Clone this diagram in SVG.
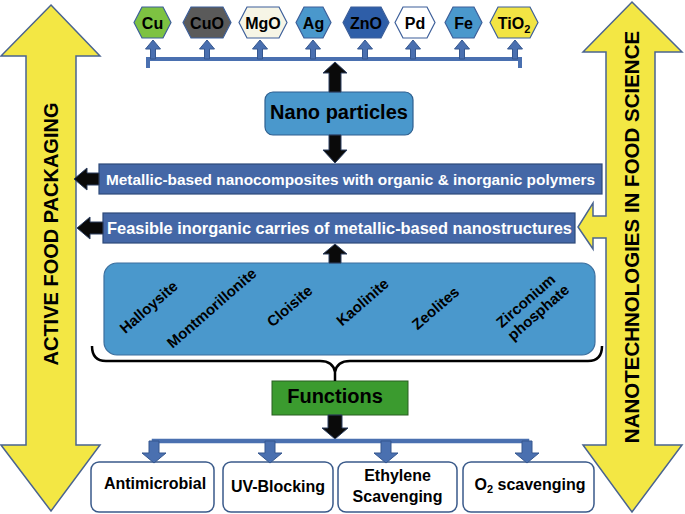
<svg xmlns="http://www.w3.org/2000/svg" width="685" height="514" viewBox="0 0 685 514">
<style>
.t{font-family:"Liberation Sans",Arial,sans-serif;font-weight:bold}
.yel{fill:#f3e744;stroke:#4a6490;stroke-width:1.5}
.hex{stroke:#3d5f9a;stroke-width:1.2}
.bl{fill:#4a70b0;stroke:#35578f;stroke-width:1}
.blk{fill:#0a0a0a;stroke:#2c3e60;stroke-width:1}
.dbox{fill:#4467a6;stroke:#2d4a7a;stroke-width:1.2}
.fbox{fill:#fff;stroke:#3a5a8a;stroke-width:1.5}
</style>
<rect width="685" height="514" fill="#fff"/>

<g id="active-food-packaging">
<path class="yel" d="M51,5 L100,56 L76,56 L76,445 L100,445 L51,511 L1,445 L26,445 L26,56 L1,56 Z"/>
<text class="t" x="0" y="0" font-size="20" text-anchor="middle" transform="translate(58,234) rotate(-90)">ACTIVE FOOD PACKAGING</text>
</g>

<g id="nanotech-food-science">
<path class="yel" d="M632,2 L682,52 L655,52 L655,445 L682,445 L632,512 L583,445 L606,445 L606,238 L593,238 L593,249 L578,227 L593,203 L593,216 L606,216 L606,52 L583,52 Z"/>
<text class="t" x="0" y="0" font-size="20.5" text-anchor="middle" transform="translate(639,237) rotate(-90)">NANOTECHNOLOGIES IN FOOD SCIENCE</text>
</g>

<g id="hex-cu"><polygon class="hex" fill="#7dc242" points="134,22.5 142,7 163,7 171,22.5 163,38 142,38"/><text class="t" x="152.5" y="28.5" font-size="16" text-anchor="middle">Cu</text></g>
<g id="hex-cuo"><polygon class="hex" fill="#5a5a5a" points="183,22.5 191,7 223,7 231,22.5 223,38 191,38"/><text class="t" x="207" y="28.5" font-size="16" text-anchor="middle">CuO</text></g>
<g id="hex-mgo"><polygon class="hex" fill="#f6f5e6" points="239,22.5 247,7 279,7 287,22.5 279,38 247,38"/><text class="t" x="263" y="28.5" font-size="16" text-anchor="middle">MgO</text></g>
<g id="hex-ag"><polygon class="hex" fill="#4a98cc" points="296,22.5 304,7 323,7 331,22.5 323,38 304,38"/><text class="t" x="313.5" y="28.5" font-size="16" text-anchor="middle">Ag</text></g>
<g id="hex-zno"><polygon class="hex" fill="#2e5ea8" points="343,22.5 351,7 381,7 389,22.5 381,38 351,38"/><text class="t" x="366" y="28.5" font-size="16" text-anchor="middle">ZnO</text></g>
<g id="hex-pd"><polygon class="hex" fill="#ffffff" points="395,22.5 403,7 427,7 435,22.5 427,38 403,38"/><text class="t" x="415" y="28.5" font-size="16" text-anchor="middle">Pd</text></g>
<g id="hex-fe"><polygon class="hex" fill="#4a98cc" points="445,22.5 453,7 474,7 482,22.5 474,38 453,38"/><text class="t" x="463.5" y="28.5" font-size="16" text-anchor="middle">Fe</text></g>
<g id="hex-tio2"><polygon class="hex" fill="#f2e444" points="490,22.5 498,7 530,7 538,22.5 530,38 498,38"/><text class="t" x="514" y="28.5" font-size="16" text-anchor="middle">TiO<tspan font-size="11" dy="4">2</tspan></text></g>

<g id="nano-particles">
<rect x="265" y="92" width="148" height="43" rx="8" fill="#4a98cc" stroke="#2e5f8f" stroke-width="1.2"/>
<text class="t" x="339" y="119" font-size="20" text-anchor="middle">Nano particles</text>
</g>

<g id="metallic-nanocomposites">
<rect class="dbox" x="99" y="164" width="503" height="30"/>
<text class="t" x="350.5" y="184.5" font-size="15.5" fill="#fff" text-anchor="middle" textLength="489" lengthAdjust="spacingAndGlyphs">Metallic-based nanocomposites with organic &amp; inorganic polymers</text>
</g>

<g id="feasible-carriers">
<rect class="dbox" x="103" y="213" width="472" height="30"/>
<text class="t" x="339.5" y="234" font-size="16.4" fill="#fff" text-anchor="middle" textLength="465" lengthAdjust="spacingAndGlyphs">Feasible inorganic carries of metallic-based nanostructures</text>
</g>

<g id="inorganic-carriers">
<rect x="104" y="263" width="491" height="92" rx="13" fill="#4a98cc" stroke="#3c6f9e" stroke-width="1.2"/>
<g class="t" font-size="15" text-anchor="middle">
<text transform="translate(152,311) rotate(-41)">Halloysite</text>
<text transform="translate(215,312) rotate(-41)">Montmorillonite</text>
<text transform="translate(293,310) rotate(-41)">Cloisite</text>
<text transform="translate(366,306) rotate(-41)">Kaolinite</text>
<text transform="translate(439,312) rotate(-41)">Zeolites</text>
<text transform="translate(531,307) rotate(-41)"><tspan x="0" y="-3">Zirconium</tspan><tspan x="2" y="14">phosphate</tspan></text>
</g>
</g>

<g id="functions">
<rect x="272" y="381" width="136" height="34" fill="#3b9b2f" stroke="#2a5e22" stroke-width="1"/>
<text class="t" x="335" y="403" font-size="20" text-anchor="middle">Functions</text>
</g>

<g id="antimicrobial"><rect class="fbox" x="91" y="462" width="123" height="50" rx="8"/><text class="t" x="155" y="489" font-size="16" text-anchor="middle">Antimicrobial</text></g>
<g id="uv-blocking"><rect class="fbox" x="223" y="462" width="110" height="50" rx="8"/><text class="t" x="278" y="492" font-size="16" text-anchor="middle">UV-Blocking</text></g>
<g id="ethylene-scavenging"><rect class="fbox" x="338" y="462" width="119" height="50" rx="8"/><text class="t" x="397.5" y="481" font-size="16" text-anchor="middle">Ethylene</text><text class="t" x="397.5" y="502" font-size="16" text-anchor="middle">Scavenging</text></g>
<g id="o2-scavenging"><rect class="fbox" x="463" y="462" width="131" height="50" rx="8"/><text class="t" x="530" y="490" font-size="16" text-anchor="middle">O<tspan font-size="11" dy="3">2</tspan><tspan dy="-3"> scavenging</tspan></text></g>

<g id="connectors">
<path d="M148,68 L148,59 L520,59 L520,68" fill="none" stroke="#4a70b0" stroke-width="4"/>
<g class="bl">
<path d="M150.5,59 L150.5,49 L145.5,49 L153,40 L160.5,49 L155.5,49 L155.5,59 Z"/>
<path d="M204.5,59 L204.5,49 L199.5,49 L207,40 L214.5,49 L209.5,49 L209.5,59 Z"/>
<path d="M257.5,59 L257.5,49 L252.5,49 L260,40 L267.5,49 L262.5,49 L262.5,59 Z"/>
<path d="M310.5,59 L310.5,49 L305.5,49 L313,40 L320.5,49 L315.5,49 L315.5,59 Z"/>
<path d="M362.5,59 L362.5,49 L357.5,49 L365,40 L372.5,49 L367.5,49 L367.5,59 Z"/>
<path d="M410.5,59 L410.5,49 L405.5,49 L413,40 L420.5,49 L415.5,49 L415.5,59 Z"/>
<path d="M459.5,59 L459.5,49 L454.5,49 L462,40 L469.5,49 L464.5,49 L464.5,59 Z"/>
<path d="M512.5,59 L512.5,49 L507.5,49 L515,40 L522.5,49 L517.5,49 L517.5,59 Z"/>
</g>
<g class="blk">
<path d="M335,62 L347,73 L341,73 L341,92 L329,92 L329,73 L323,73 Z"/>
<path d="M329,135 L341,135 L341,150 L347,150 L335,163 L323,150 L329,150 Z"/>
<path d="M335,244 L347,254 L341,254 L341,263 L329,263 L329,254 L323,254 Z"/>
<path d="M328,415 L342,415 L342,428 L348,428 L335,439 L322,428 L328,428 Z"/>
<path d="M74,179 L87,168 L87,173 L99,173 L99,185 L87,185 L87,190 Z"/>
<path d="M77,228 L90,217 L90,222 L103,222 L103,234 L90,234 L90,239 Z"/>
</g>
<path d="M92,346 Q92,361 106,361 L320,361 Q333,361 335,372 L335,381 M335,372 Q337,361 350,361 L588,361 Q602,361 602,346" fill="none" stroke="#000" stroke-width="2.5"/>
<path d="M154,453 L154,441 L527,441 L527,453" fill="none" stroke="#4a70b0" stroke-width="4.5"/>
<g class="bl">
<path d="M149,441 L159,441 L159,453 L166,453 L154,463 L142,453 L149,453 Z"/>
<path d="M265,441 L275,441 L275,453 L282,453 L270,463 L258,453 L265,453 Z"/>
<path d="M381,441 L391,441 L391,453 L398,453 L386,463 L374,453 L381,453 Z"/>
<path d="M522,441 L532,441 L532,453 L539,453 L527,463 L515,453 L522,453 Z"/>
</g>
</g>
</svg>
